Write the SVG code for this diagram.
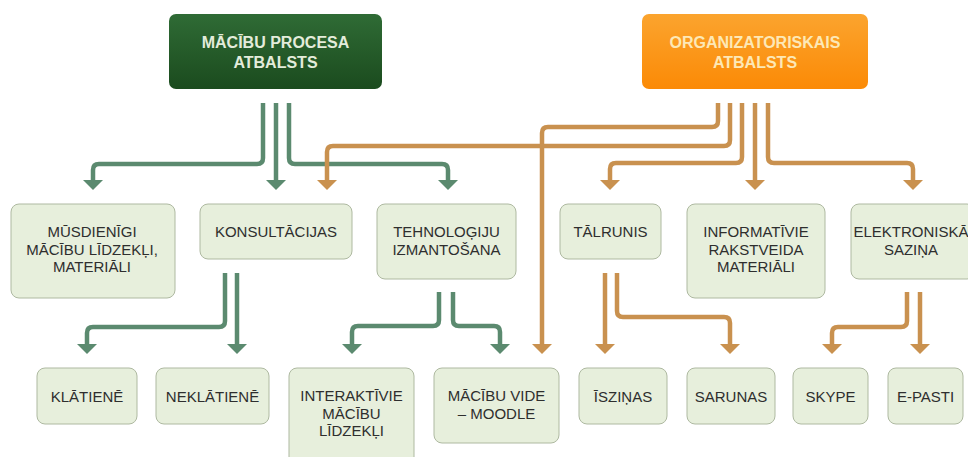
<svg xmlns="http://www.w3.org/2000/svg" width="968" height="457" viewBox="0 0 968 457">
<defs>
<linearGradient id="gG" x1="0" y1="0" x2="0" y2="1"><stop offset="0" stop-color="#2f6b35"/><stop offset="1" stop-color="#1b4b1e"/></linearGradient>
<linearGradient id="gO" x1="0" y1="0" x2="0" y2="1"><stop offset="0" stop-color="#fba42e"/><stop offset="1" stop-color="#fb8a06"/></linearGradient>
<marker id="aG" viewBox="0 0 10 20" markerWidth="10" markerHeight="20" markerUnits="userSpaceOnUse" refX="0" refY="10" orient="auto"><path d="M0,0 L10,10 L0,20 Z" fill="#5b8a6f"/></marker>
<marker id="aO" viewBox="0 0 10 20" markerWidth="10" markerHeight="20" markerUnits="userSpaceOnUse" refX="0" refY="10" orient="auto"><path d="M0,0 L10,10 L0,20 Z" fill="#c9914f"/></marker>
</defs>
<style>
.box{fill:#e7efdc;stroke:#aeb9a1;stroke-width:1}
.t{font-family:"Liberation Sans",Arial,sans-serif;font-size:15px;fill:#2e2e2e;text-anchor:middle}
.h{font-family:"Liberation Sans",Arial,sans-serif;font-size:16px;font-weight:bold;text-anchor:middle}
.g{fill:none;stroke:#5b8a6f;stroke-width:4.5;marker-end:url(#aG)}
.o{fill:none;stroke:#c9914f;stroke-width:4.5;marker-end:url(#aO)}
</style>
<rect width="968" height="457" fill="#ffffff"/>

<g id="connectors">
<path class="g" d="M263,103 V158 Q263,164 257,164 H99 Q93,164 93,170 V180"/>
<path class="g" d="M276,103 V180"/>
<path class="g" d="M289,103 V158 Q289,164 295,164 H442 Q448,164 448,170 V180"/>
<path class="g" d="M225,273 V321 Q225,327 219,327 H93 Q87,327 87,333 V344"/>
<path class="g" d="M237,273 V344"/>
<path class="g" d="M439,292 V320 Q439,326 433,326 H358 Q352,326 352,332 V344"/>
<path class="g" d="M453,292 V320 Q453,326 459,326 H494 Q500,326 500,332 V344"/>
<path class="o" d="M718,103 V121 Q718,127 712,127 H548 Q542,127 542,133 V344"/>
<path class="o" d="M730,103 V140 Q730,146 724,146 H333 Q327,146 327,152 V180"/>
<path class="o" d="M742,103 V157 Q742,163 736,163 H616 Q610,163 610,169 V180"/>
<path class="o" d="M755,103 V180"/>
<path class="o" d="M768,103 V157 Q768,163 774,163 H907 Q913,163 913,169 V180"/>
<path class="o" d="M605,273 V344"/>
<path class="o" d="M617,273 V311 Q617,317 623,317 H724 Q730,317 730,323 V344"/>
<path class="o" d="M907,292 V321 Q907,327 901,327 H838 Q832,327 832,333 V344"/>
<path class="o" d="M920,292 V344"/>
</g>

<g id="n-macibu-procesa">
<rect x="169" y="14" width="213" height="75" rx="7" fill="url(#gG)"/>
<text class="h" x="275.5" y="48" fill="#e3ecdb">MĀCĪBU PROCESA</text>
<text class="h" x="275.5" y="68" fill="#e3ecdb">ATBALSTS</text>
</g>
<g id="n-organizatoriskais">
<rect x="642" y="14" width="226" height="75" rx="7" fill="url(#gO)"/>
<text class="h" x="755" y="48" fill="#fde8b6">ORGANIZATORISKAIS</text>
<text class="h" x="755" y="68" fill="#fde8b6">ATBALSTS</text>
</g>

<g id="n-musdienigi">
<rect class="box" x="11" y="204" width="164" height="94" rx="8"/>
<text class="t" x="92" y="237">MŪSDIENĪGI</text>
<text class="t" x="92" y="254.5">MĀCĪBU LĪDZEKĻI,</text>
<text class="t" x="92" y="272">MATERIĀLI</text>
</g>
<g id="n-konsultacijas">
<rect class="box" x="200" y="204" width="152" height="55" rx="8"/>
<text class="t" x="276" y="237">KONSULTĀCIJAS</text>
</g>
<g id="n-tehnologiju">
<rect class="box" x="377" y="204" width="139" height="75" rx="8"/>
<text class="t" x="446.5" y="237">TEHNOLOĢIJU</text>
<text class="t" x="446.5" y="254.5">IZMANTOŠANA</text>
</g>
<g id="n-talrunis">
<rect class="box" x="560" y="204" width="101" height="55" rx="8"/>
<text class="t" x="610.5" y="237">TĀLRUNIS</text>
</g>
<g id="n-informativie">
<rect class="box" x="687" y="204" width="138" height="94" rx="8"/>
<text class="t" x="756" y="237">INFORMATĪVIE</text>
<text class="t" x="756" y="254.5">RAKSTVEIDA</text>
<text class="t" x="756" y="272">MATERIĀLI</text>
</g>
<g id="n-elektroniska">
<rect class="box" x="851" y="204" width="124" height="75" rx="8"/>
<text class="t" x="911" y="237">ELEKTRONISKĀ</text>
<text class="t" x="911" y="254.5">SAZIŅA</text>
</g>

<g id="n-klatiene">
<rect class="box" x="37" y="368" width="100" height="56" rx="8"/>
<text class="t" x="87" y="401.5">KLĀTIENĒ</text>
</g>
<g id="n-neklatiene">
<rect class="box" x="156" y="368" width="113" height="56" rx="8"/>
<text class="t" x="212.5" y="401.5">NEKLĀTIENĒ</text>
</g>
<g id="n-interaktivie">
<rect class="box" x="289" y="368" width="125" height="100" rx="8"/>
<text class="t" x="351.5" y="401">INTERAKTĪVIE</text>
<text class="t" x="351.5" y="418.5">MĀCĪBU</text>
<text class="t" x="351.5" y="436">LĪDZEKĻI</text>
</g>
<g id="n-macibu-vide">
<rect class="box" x="434" y="368" width="125" height="75" rx="8"/>
<text class="t" x="496.5" y="401">MĀCĪBU VIDE</text>
<text class="t" x="496.5" y="418.5">– MOODLE</text>
</g>
<g id="n-isziņas">
<rect class="box" x="579" y="368" width="88" height="56" rx="8"/>
<text class="t" x="623" y="401.5">ĪSZIŅAS</text>
</g>
<g id="n-sarunas">
<rect class="box" x="687" y="368" width="88" height="56" rx="8"/>
<text class="t" x="731" y="401.5">SARUNAS</text>
</g>
<g id="n-skype">
<rect class="box" x="793" y="368" width="75" height="56" rx="8"/>
<text class="t" x="830.5" y="401.5">SKYPE</text>
</g>
<g id="n-e-pasti">
<rect class="box" x="888" y="368" width="75" height="56" rx="8"/>
<text class="t" x="925.5" y="401.5">E-PASTI</text>
</g>
</svg>
